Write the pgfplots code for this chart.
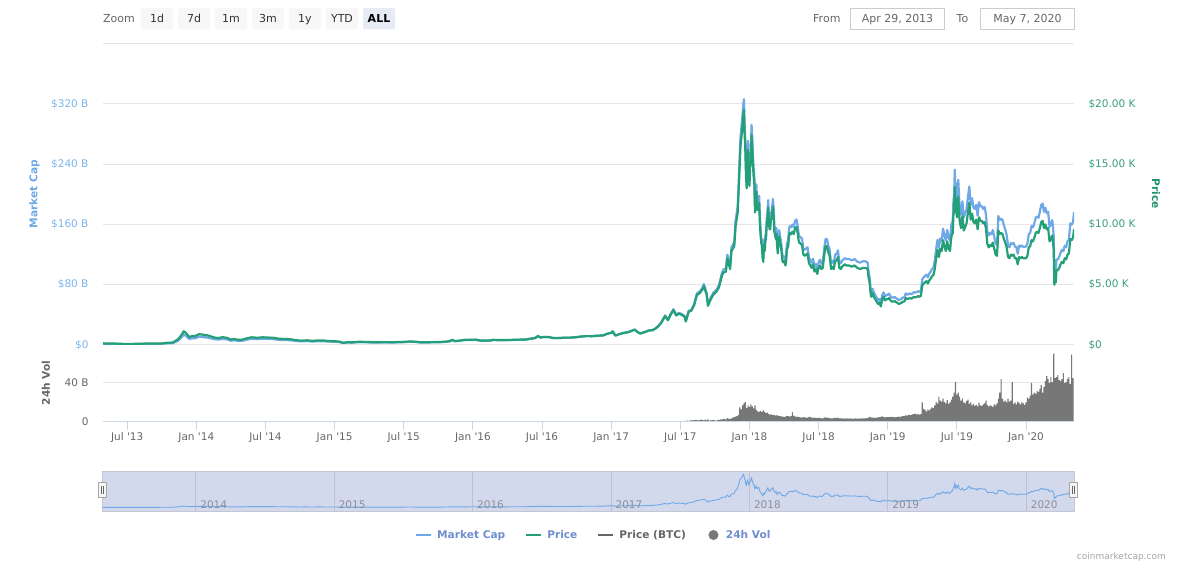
\documentclass[border=0pt]{standalone}
\usepackage{pgfplots}
\pgfplotsset{compat=1.18}
\usepackage{pgfplotstable}
\usepackage{fontspec}
\setmainfont{DejaVu Sans}

\definecolor{mcap}{HTML}{6FA8E6}
\definecolor{mcaplbl}{HTML}{7CB5EC}
\definecolor{price}{HTML}{23A077}
\definecolor{pricelbl}{HTML}{3A9E77}
\definecolor{pricettl}{HTML}{1E9467}
\definecolor{vol}{HTML}{777777}
\definecolor{gridc}{HTML}{E6E6E6}
\definecolor{axisc}{HTML}{CCD6EB}
\definecolor{txt}{HTML}{666666}
\definecolor{legtxt}{HTML}{6E8ED0}
\definecolor{btc}{HTML}{666666}
\definecolor{navfill}{HTML}{D3D9EC}
\definecolor{navborder}{HTML}{C4C7D2}
\definecolor{navline}{HTML}{BDC2D3}
\definecolor{navtxt}{HTML}{8E8E96}
\definecolor{btnbg}{HTML}{F7F7F7}
\definecolor{btnsel}{HTML}{E6EBF5}
\definecolor{boxc}{HTML}{CCCCCC}

\newcommand\tk{\fontsize{10.5}{12}\selectfont}
\newcommand\bt{\fontsize{11}{13}\selectfont}
\newcommand\bld{\fontsize{10.6}{12}\selectfont\bfseries}

% t = decimal year, p = price (thousand USD), c = market cap (billion USD)
\pgfplotstableread[row sep=\\]{
t p c\\
2013.325 0.144 1.60\\ 2013.36 0.117 1.30\\ 2013.40 0.122 1.37\\ 2013.44 0.108 1.22\\
2013.48 0.090 1.02\\ 2013.51 0.077 0.88\\ 2013.55 0.095 1.09\\ 2013.59 0.105 1.21\\
2013.63 0.120 1.39\\ 2013.67 0.130 1.52\\ 2013.71 0.125 1.47\\ 2013.75 0.130 1.53\\
2013.79 0.185 2.19\\ 2013.83 0.205 2.44\\ 2013.85 0.350 4.18\\ 2013.87 0.500 6.00\\
2013.89 0.800 9.62\\ 2013.91 1.140 13.74\\ 2013.925 1.000 12.08\\ 2013.95 0.650 7.88\\
2013.97 0.750 9.11\\ 2013.99 0.730 8.89\\
2014.02 0.900 11.01\\ 2014.05 0.850 10.43\\ 2014.08 0.800 9.86\\ 2014.11 0.700 8.65\\
2014.13 0.620 7.68\\ 2014.16 0.580 7.22\\ 2014.19 0.650 8.11\\ 2014.22 0.600 7.52\\
2014.25 0.450 5.66\\ 2014.27 0.500 6.30\\ 2014.30 0.440 5.56\\ 2014.33 0.440 5.58\\
2014.37 0.570 7.27\\ 2014.40 0.640 8.19\\ 2014.44 0.600 7.71\\ 2014.48 0.640 8.26\\
2014.52 0.620 8.04\\ 2014.56 0.590 7.69\\ 2014.60 0.520 6.81\\ 2014.64 0.500 6.58\\
2014.68 0.480 6.34\\ 2014.72 0.400 5.31\\ 2014.76 0.360 4.80\\ 2014.80 0.390 5.22\\
2014.84 0.340 4.57\\ 2014.88 0.380 5.13\\ 2014.92 0.370 5.02\\ 2014.96 0.330 4.49\\
2015.00 0.315 4.31\\ 2015.04 0.270 3.71\\ 2015.06 0.180 2.48\\ 2015.09 0.230 3.17\\
2015.13 0.220 3.05\\ 2015.17 0.270 3.76\\ 2015.21 0.260 3.63\\ 2015.25 0.245 3.43\\
2015.29 0.225 3.17\\ 2015.33 0.235 3.32\\ 2015.38 0.240 3.41\\ 2015.42 0.230 3.28\\
2015.46 0.245 3.50\\ 2015.50 0.260 3.73\\ 2015.54 0.290 4.18\\ 2015.58 0.280 4.05\\
2015.62 0.225 3.27\\ 2015.67 0.230 3.35\\ 2015.71 0.240 3.51\\ 2015.75 0.240 3.53\\
2015.79 0.270 3.98\\ 2015.83 0.315 4.66\\ 2015.85 0.430 6.38\\ 2015.87 0.330 4.90\\
2015.90 0.360 5.36\\ 2015.94 0.430 6.43\\ 2015.98 0.430 6.45\\
2016.02 0.450 6.78\\ 2016.05 0.380 5.74\\ 2016.08 0.380 5.75\\ 2016.12 0.370 5.62\\
2016.15 0.430 6.55\\ 2016.19 0.410 6.27\\ 2016.23 0.415 6.37\\ 2016.27 0.420 6.47\\
2016.31 0.440 6.80\\ 2016.35 0.450 6.98\\ 2016.38 0.455 7.08\\ 2016.42 0.530 8.27\\
2016.45 0.580 9.08\\ 2016.47 0.750 11.76\\ 2016.49 0.620 9.74\\ 2016.51 0.670 10.55\\
2016.55 0.660 10.41\\ 2016.58 0.580 9.16\\ 2016.62 0.575 9.10\\ 2016.66 0.610 9.67\\
2016.70 0.610 9.68\\ 2016.74 0.640 10.18\\ 2016.78 0.700 11.15\\ 2016.82 0.740 11.81\\
2016.86 0.730 11.67\\ 2016.90 0.770 12.33\\ 2016.94 0.790 12.67\\ 2016.98 0.960 15.43\\
2017.00 1.000 16.08\\ 2017.01 1.130 18.20\\ 2017.03 0.780 12.57\\ 2017.06 0.900 14.50\\
2017.09 1.000 16.11\\ 2017.12 1.050 16.99\\ 2017.15 1.180 19.09\\ 2017.17 1.270 20.55\\
2017.19 1.080 17.47\\ 2017.21 0.950 15.44\\ 2017.24 1.050 17.06\\ 2017.27 1.190 19.34\\
2017.30 1.230 20.07\\ 2017.32 1.350 22.03\\ 2017.34 1.550 25.30\\ 2017.36 1.800 29.38\\
2017.38 2.200 35.90\\ 2017.39 2.400 39.17\\ 2017.41 2.050 33.60\\ 2017.43 2.500 40.98\\
2017.45 2.900 47.53\\ 2017.47 2.450 40.16\\ 2017.49 2.600 42.61\\ 2017.51 2.500 41.15\\
2017.53 2.350 38.68\\ 2017.54 1.950 32.10\\ 2017.56 2.750 45.27\\ 2017.58 2.850 46.91\\
2017.60 3.300 54.55\\ 2017.62 4.150 68.60\\ 2017.64 4.300 71.08\\ 2017.66 4.600 76.04\\
2017.67 4.900 81.00\\ 2017.69 4.200 69.43\\ 2017.70 3.250 53.95\\ 2017.72 3.800 63.08\\
2017.74 4.200 69.72\\ 2017.76 4.400 73.04\\ 2017.78 4.800 79.68\\ 2017.80 5.700 95.02\\
2017.81 6.000 100.02\\ 2017.83 6.100 101.69\\ 2017.84 7.200 120.02\\ 2017.86 6.300 105.02\\
2017.87 7.800 130.03\\ 2017.89 8.200 136.69\\ 2017.90 9.900 165.73\\ 2017.915 11.00 184.14\\
2017.925 13.70 229.34\\ 2017.935 16.50 276.21\\ 2017.945 17.60 294.62\\ 2017.955 19.00 318.06\\
2017.96 19.50 326.43\\ 2017.965 17.50 292.95\\ 2017.97 16.20 271.19\\ 2017.975 14.00 234.36\\
2017.98 13.00 217.62\\ 2017.985 15.50 259.47\\ 2017.99 16.20 271.19\\ 2017.995 13.80 231.01\\
2018.00 13.20 221.76\\ 2018.005 14.80 248.64\\ 2018.01 15.20 255.36\\ 2018.015 17.40 292.32\\
2018.02 16.50 277.20\\ 2018.025 15.00 252.00\\ 2018.03 14.00 235.20\\ 2018.035 13.50 226.80\\
2018.04 11.00 184.80\\ 2018.045 11.50 193.20\\ 2018.05 12.70 213.36\\ 2018.055 11.30 189.84\\
2018.06 11.20 188.16\\ 2018.065 11.60 194.88\\ 2018.07 11.80 198.24\\ 2018.075 10.20 171.36\\
2018.08 9.20 154.56\\ 2018.085 8.50 142.80\\ 2018.09 8.20 137.76\\ 2018.095 7.20 120.96\\
2018.10 6.90 116.40\\ 2018.105 8.30 140.02\\ 2018.11 7.80 131.59\\ 2018.115 8.60 145.08\\
2018.12 8.90 150.14\\ 2018.125 10.00 168.70\\ 2018.13 10.40 175.45\\ 2018.135 11.40 192.32\\
2018.14 10.40 175.45\\ 2018.145 9.60 161.95\\ 2018.15 9.60 161.95\\ 2018.155 10.40 175.45\\
2018.16 10.50 177.14\\ 2018.17 11.50 194.01\\ 2018.175 10.70 180.51\\ 2018.18 9.40 158.58\\
2018.185 9.20 155.20\\ 2018.19 8.80 148.46\\ 2018.195 9.20 155.20\\ 2018.20 8.20 138.91\\
2018.205 7.60 128.74\\ 2018.21 8.60 145.68\\ 2018.215 9.00 152.46\\ 2018.22 8.60 145.68\\
2018.225 8.30 140.60\\ 2018.23 8.00 135.52\\ 2018.235 7.30 123.66\\ 2018.24 6.90 116.89\\
2018.245 7.00 118.58\\ 2018.25 6.90 116.89\\ 2018.26 6.60 111.80\\ 2018.265 6.90 116.89\\
2018.27 7.90 133.83\\ 2018.28 8.20 138.91\\ 2018.285 8.90 150.77\\ 2018.29 9.30 157.54\\
2018.30 9.20 156.49\\ 2018.31 9.40 159.89\\ 2018.32 9.20 156.49\\ 2018.33 9.70 165.00\\
2018.34 9.80 166.70\\ 2018.35 9.20 156.49\\ 2018.355 8.70 147.99\\ 2018.36 8.50 144.59\\
2018.37 8.40 142.88\\ 2018.38 8.30 141.18\\ 2018.39 7.50 127.58\\ 2018.40 7.40 126.39\\
2018.41 7.50 128.10\\ 2018.42 7.60 129.81\\ 2018.43 6.80 116.14\\ 2018.44 6.60 112.73\\
2018.45 6.40 109.31\\ 2018.46 6.70 114.44\\ 2018.47 6.10 104.19\\ 2018.48 6.30 107.60\\
2018.49 5.90 100.77\\ 2018.50 6.40 109.76\\ 2018.51 6.60 113.19\\ 2018.52 6.30 108.05\\
2018.53 6.40 109.76\\ 2018.54 7.40 126.91\\ 2018.55 8.20 140.63\\ 2018.56 8.20 140.63\\
2018.57 7.70 132.06\\ 2018.58 7.40 126.91\\ 2018.59 6.30 108.05\\ 2018.60 6.50 111.93\\
2018.61 6.30 108.49\\ 2018.62 7.00 120.54\\ 2018.63 7.00 120.54\\ 2018.64 7.30 125.71\\
2018.65 6.40 110.21\\ 2018.66 6.30 108.49\\ 2018.67 6.50 111.93\\ 2018.68 6.60 113.65\\
2018.69 6.70 115.37\\ 2018.70 6.60 114.11\\ 2018.72 6.60 114.11\\ 2018.74 6.50 112.39\\
2018.76 6.60 114.11\\ 2018.78 6.40 110.66\\ 2018.80 6.30 109.37\\ 2018.82 6.40 111.10\\
2018.84 6.40 111.10\\ 2018.855 6.30 109.37\\ 2018.86 5.70 98.95\\ 2018.87 5.10 88.54\\
2018.875 4.40 76.38\\ 2018.88 4.00 69.44\\ 2018.89 4.30 74.65\\ 2018.90 4.00 69.72\\
2018.91 3.80 66.23\\ 2018.92 3.60 62.75\\ 2018.93 3.40 59.26\\ 2018.94 3.50 61.01\\
2018.95 3.20 55.78\\ 2018.96 3.80 66.23\\ 2018.97 4.00 69.72\\ 2018.98 3.70 64.49\\
2018.99 3.80 66.23\\
2019.00 3.80 66.46\\ 2019.01 3.90 68.21\\ 2019.02 3.70 64.71\\ 2019.03 3.60 62.96\\
2019.04 3.60 62.96\\ 2019.05 3.65 63.84\\ 2019.06 3.55 62.09\\ 2019.07 3.50 61.22\\
2019.08 3.40 59.47\\ 2019.09 3.45 60.34\\ 2019.10 3.50 61.46\\ 2019.11 3.60 63.22\\
2019.12 3.60 63.22\\ 2019.13 3.90 68.48\\ 2019.14 3.80 66.73\\ 2019.15 3.85 67.61\\
2019.16 3.90 68.48\\ 2019.17 3.85 67.61\\ 2019.18 3.90 68.48\\ 2019.19 4.00 70.24\\
2019.20 3.95 69.64\\ 2019.21 4.00 70.52\\ 2019.22 4.05 71.40\\ 2019.23 4.00 70.52\\
2019.24 4.10 72.28\\ 2019.25 4.95 87.27\\ 2019.26 5.10 89.91\\ 2019.27 5.20 91.68\\
2019.28 5.30 93.44\\ 2019.29 5.10 89.91\\ 2019.30 5.35 94.64\\ 2019.31 5.50 97.30\\
2019.32 5.70 100.83\\ 2019.33 5.80 102.60\\ 2019.34 6.30 111.45\\ 2019.35 7.20 127.37\\
2019.36 7.90 139.75\\ 2019.37 7.30 129.14\\ 2019.38 8.00 141.52\\ 2019.39 7.80 137.98\\
2019.40 8.70 154.51\\ 2019.41 8.20 145.63\\ 2019.42 7.80 138.53\\ 2019.43 8.60 152.74\\
2019.44 8.00 142.08\\ 2019.45 7.80 138.53\\ 2019.46 9.00 159.84\\ 2019.47 9.30 165.17\\
2019.475 10.80 191.81\\ 2019.48 11.20 198.91\\ 2019.485 13.10 232.66\\ 2019.49 11.00 195.36\\
2019.495 12.10 214.90\\ 2019.50 10.60 189.00\\ 2019.505 11.50 205.05\\ 2019.51 12.30 219.31\\
2019.515 11.20 199.70\\ 2019.52 10.30 183.65\\ 2019.53 9.70 172.95\\ 2019.54 10.70 190.78\\
2019.55 9.50 169.39\\ 2019.56 9.80 174.73\\ 2019.57 10.10 180.08\\ 2019.58 11.00 196.13\\
2019.59 11.80 210.39\\ 2019.60 10.40 186.06\\ 2019.61 10.90 195.00\\ 2019.62 10.20 182.48\\
2019.63 10.10 180.69\\ 2019.64 10.40 186.06\\ 2019.65 9.60 171.74\\ 2019.66 10.60 189.63\\
2019.67 10.30 184.27\\ 2019.68 10.30 184.27\\ 2019.69 10.10 180.69\\ 2019.70 10.20 183.19\\
2019.71 9.70 174.21\\ 2019.72 8.40 150.86\\ 2019.73 8.10 145.48\\ 2019.74 8.30 149.07\\
2019.75 8.20 147.27\\ 2019.76 8.50 152.66\\ 2019.77 8.00 143.68\\ 2019.78 7.50 134.70\\
2019.79 7.40 132.90\\ 2019.80 9.50 171.29\\ 2019.81 9.20 165.88\\ 2019.82 9.30 167.68\\
2019.83 9.20 165.88\\ 2019.84 8.80 158.66\\ 2019.85 8.50 153.26\\ 2019.86 8.10 146.04\\
2019.87 7.30 131.62\\ 2019.88 7.20 129.82\\ 2019.89 7.50 135.23\\ 2019.90 7.40 133.94\\
2019.91 7.50 135.75\\ 2019.92 7.20 130.32\\ 2019.93 7.20 130.32\\ 2019.94 6.70 121.27\\
2019.95 7.30 132.13\\ 2019.96 7.20 130.32\\ 2019.97 7.30 132.13\\ 2019.98 7.20 130.32\\
2019.99 7.20 130.32\\
2020.00 7.20 130.75\\ 2020.01 7.40 134.38\\ 2020.02 8.10 147.10\\ 2020.03 8.20 148.91\\
2020.04 8.70 157.99\\ 2020.05 8.60 156.18\\ 2020.06 8.90 161.62\\ 2020.07 9.30 168.89\\
2020.08 9.40 170.70\\ 2020.09 9.30 168.89\\ 2020.10 9.70 176.83\\ 2020.11 10.20 185.95\\
2020.12 10.30 187.77\\ 2020.13 9.70 176.83\\ 2020.14 10.00 182.30\\ 2020.15 9.60 175.01\\
2020.16 9.70 176.83\\ 2020.17 8.60 156.78\\ 2020.18 8.80 160.42\\ 2020.19 9.10 165.89\\
2020.20 7.90 144.57\\ 2020.205 5.00 91.50\\ 2020.21 5.40 98.82\\ 2020.215 5.20 95.16\\
2020.22 6.20 113.46\\ 2020.23 6.20 113.46\\ 2020.24 6.40 117.12\\ 2020.25 6.70 122.61\\
2020.26 6.90 126.27\\ 2020.27 6.80 124.44\\ 2020.28 7.20 131.76\\ 2020.29 7.10 129.93\\
2020.30 7.50 137.70\\ 2020.31 7.60 139.54\\ 2020.32 8.80 161.57\\ 2020.33 8.70 159.73\\
2020.34 8.90 163.40\\ 2020.347 9.60 176.26\\
}\btcdata

% 24h volume, billion USD
\pgfplotstableread[row sep=\\]{
t v\\
2017.50 0.8\\ 2017.51 1.0\\ 2017.52 0.9\\ 2017.53 0.7\\ 2017.54 1.2\\ 2017.55 1.4\\ 2017.56 1.1\\ 2017.57 1.3\\ 2017.58 1.9\\ 2017.59 1.6\\
2017.60 1.8\\ 2017.61 2.2\\ 2017.62 2.0\\ 2017.63 1.7\\ 2017.64 1.9\\ 2017.65 2.4\\ 2017.66 2.1\\ 2017.67 1.6\\ 2017.68 2.5\\ 2017.69 2.0\\
2017.70 2.8\\ 2017.71 1.5\\ 2017.72 1.7\\ 2017.73 1.9\\ 2017.74 2.1\\ 2017.75 1.6\\ 2017.76 1.5\\ 2017.77 1.8\\ 2017.78 2.3\\ 2017.79 2.6\\
2017.80 2.4\\ 2017.81 2.9\\ 2017.82 3.2\\ 2017.83 2.6\\ 2017.84 4.0\\ 2017.85 3.4\\ 2017.86 3.0\\ 2017.87 3.8\\ 2017.88 4.5\\ 2017.89 5.0\\
2017.90 5.5\\ 2017.91 6.0\\ 2017.92 7.0\\ 2017.93 15.0\\ 2017.94 13.0\\ 2017.95 17.0\\ 2017.96 19.0\\ 2017.97 20.5\\ 2017.98 14.5\\ 2017.99 17.0\\
2018.00 15.5\\ 2018.01 18.0\\ 2018.02 16.0\\ 2018.03 14.0\\ 2018.04 17.0\\ 2018.05 12.5\\ 2018.06 11.0\\ 2018.07 10.5\\ 2018.08 11.5\\ 2018.09 10.0\\
2018.10 12.0\\ 2018.11 10.5\\ 2018.12 9.0\\ 2018.13 9.5\\ 2018.14 8.0\\ 2018.15 7.5\\ 2018.16 7.8\\ 2018.17 7.0\\ 2018.18 7.2\\ 2018.19 6.5\\
2018.20 7.0\\ 2018.21 6.2\\ 2018.22 6.0\\ 2018.23 5.8\\ 2018.24 5.5\\ 2018.25 5.2\\ 2018.26 5.6\\ 2018.27 6.4\\ 2018.28 6.0\\ 2018.29 5.5\\
2018.30 6.0\\ 2018.31 10.0\\ 2018.32 6.5\\ 2018.33 5.8\\ 2018.34 5.2\\ 2018.35 5.4\\ 2018.36 5.0\\ 2018.37 4.8\\ 2018.38 4.6\\ 2018.39 4.9\\
2018.40 4.8\\ 2018.41 4.4\\ 2018.42 4.6\\ 2018.43 5.2\\ 2018.44 5.0\\ 2018.45 4.5\\ 2018.46 4.2\\ 2018.47 4.4\\ 2018.48 4.3\\ 2018.49 4.0\\
2018.50 4.1\\ 2018.51 4.3\\ 2018.52 3.8\\ 2018.53 3.6\\ 2018.54 4.4\\ 2018.55 4.8\\ 2018.56 4.6\\ 2018.57 4.2\\ 2018.58 3.9\\ 2018.59 3.8\\
2018.60 3.7\\ 2018.61 3.9\\ 2018.62 4.2\\ 2018.63 4.0\\ 2018.64 4.5\\ 2018.65 3.8\\ 2018.66 3.6\\ 2018.67 3.8\\ 2018.68 3.5\\ 2018.69 3.6\\
2018.70 3.5\\ 2018.71 3.6\\ 2018.72 3.4\\ 2018.73 3.7\\ 2018.74 3.5\\ 2018.75 3.3\\ 2018.76 3.6\\ 2018.77 3.4\\ 2018.78 3.5\\ 2018.79 3.4\\
2018.80 3.6\\ 2018.81 3.5\\ 2018.82 3.7\\ 2018.83 3.8\\ 2018.84 3.6\\ 2018.85 3.9\\ 2018.86 4.6\\ 2018.87 5.2\\ 2018.88 4.8\\ 2018.89 4.4\\
2018.90 4.5\\ 2018.91 4.2\\ 2018.92 4.4\\ 2018.93 4.8\\ 2018.94 4.9\\ 2018.95 5.3\\ 2018.96 5.8\\ 2018.97 5.0\\ 2018.98 4.7\\ 2018.99 4.9\\
2019.00 5.1\\ 2019.01 5.0\\ 2019.02 5.3\\ 2019.03 4.9\\ 2019.04 5.2\\ 2019.05 4.8\\ 2019.06 5.0\\ 2019.07 5.1\\ 2019.08 5.4\\ 2019.09 5.2\\
2019.10 5.8\\ 2019.11 6.2\\ 2019.12 6.0\\ 2019.13 6.8\\ 2019.14 6.5\\ 2019.15 7.2\\ 2019.16 7.0\\ 2019.17 7.3\\ 2019.18 7.8\\ 2019.19 8.0\\
2019.20 8.5\\ 2019.21 7.8\\ 2019.22 8.2\\ 2019.23 7.5\\ 2019.24 8.0\\ 2019.25 20.0\\ 2019.26 13.5\\ 2019.27 12.5\\ 2019.28 11.0\\ 2019.29 13.0\\
2019.30 12.0\\ 2019.31 13.5\\ 2019.32 15.0\\ 2019.33 14.2\\ 2019.34 17.0\\ 2019.35 21.0\\ 2019.36 19.0\\ 2019.37 26.0\\ 2019.38 22.0\\ 2019.39 21.0\\
2019.40 24.0\\ 2019.41 20.5\\ 2019.42 19.0\\ 2019.43 22.5\\ 2019.44 18.5\\ 2019.45 20.0\\ 2019.46 23.0\\ 2019.47 26.0\\ 2019.48 30.0\\ 2019.49 41.0\\
2019.50 28.0\\ 2019.51 30.0\\ 2019.52 26.0\\ 2019.53 22.0\\ 2019.54 24.0\\ 2019.55 20.0\\ 2019.56 19.0\\ 2019.57 21.5\\ 2019.58 23.0\\ 2019.59 18.5\\
2019.60 20.0\\ 2019.61 17.0\\ 2019.62 18.5\\ 2019.63 16.5\\ 2019.64 17.5\\ 2019.65 16.0\\ 2019.66 19.5\\ 2019.67 17.0\\ 2019.68 16.5\\ 2019.69 18.0\\
2019.70 19.0\\ 2019.71 22.0\\ 2019.72 17.5\\ 2019.73 16.0\\ 2019.74 17.0\\ 2019.75 16.5\\ 2019.76 15.5\\ 2019.77 18.0\\ 2019.78 17.0\\ 2019.79 19.0\\
2019.80 24.0\\ 2019.81 30.0\\ 2019.82 44.0\\ 2019.83 24.0\\ 2019.84 21.0\\ 2019.85 22.0\\ 2019.86 20.0\\ 2019.87 24.0\\ 2019.88 21.0\\ 2019.89 22.0\\
2019.90 41.0\\ 2019.91 18.5\\ 2019.92 20.0\\ 2019.93 18.0\\ 2019.94 21.0\\ 2019.95 19.5\\ 2019.96 18.0\\ 2019.97 20.5\\ 2019.98 19.0\\ 2019.99 17.5\\
2020.00 20.0\\ 2020.01 25.0\\ 2020.02 24.0\\ 2020.03 27.0\\ 2020.04 40.0\\ 2020.05 28.0\\ 2020.06 30.0\\ 2020.07 29.0\\ 2020.08 32.0\\ 2020.09 31.0\\
2020.10 34.0\\ 2020.11 38.0\\ 2020.12 30.0\\ 2020.13 36.0\\ 2020.14 42.0\\ 2020.15 47.0\\ 2020.16 44.0\\ 2020.17 40.0\\ 2020.18 46.0\\ 2020.19 41.0\\
2020.20 70.0\\ 2020.21 45.0\\ 2020.22 46.0\\ 2020.23 48.0\\ 2020.24 43.0\\ 2020.25 42.0\\ 2020.26 44.0\\ 2020.27 50.0\\ 2020.28 40.0\\ 2020.29 41.0\\
2020.30 44.0\\ 2020.31 46.0\\ 2020.32 39.0\\ 2020.33 69.0\\ 2020.34 45.0\\
}\voldata

\begin{document}
\begin{tikzpicture}[x=1pt,y=1pt]
\path[use as bounding box] (0,0) rectangle (1179,570);

% range selector bar
\node[anchor=base west, inner sep=0, text=txt, font=\bt] at (103,547.5) {Zoom};
\foreach \x/\t in {141/1d,178/7d,215/1m,252/3m,289/1y,326/YTD} {
  \fill[btnbg, rounded corners=2pt] (\x,540.7) rectangle ++(32,21.3);
  \node[anchor=base, inner sep=0, text=black!80, font=\bt] at (\x+16,547.5) {\t};
}
\fill[btnsel, rounded corners=2pt] (363,540.7) rectangle ++(32,21.3);
\node[anchor=base, inner sep=0, font=\bt\bfseries] at (379,547.5) {ALL};

\node[anchor=base west, inner sep=0, text=txt, font=\bt] at (813,547.5) {From};
\draw[boxc] (850.5,540.7) rectangle (944.5,562);
\node[anchor=base, inner sep=0, text=txt, font=\bt] at (897.5,547.5) {Apr 29, 2013};
\node[anchor=base west, inner sep=0, text=txt, font=\bt] at (956.5,547.5) {To};
\draw[boxc] (980.5,540.7) rectangle (1074.5,562);
\node[anchor=base, inner sep=0, text=txt, font=\bt] at (1027.5,547.5) {May 7, 2020};

% market cap pane
\begin{axis}[
  at={(103pt,225pt)}, anchor=south west, scale only axis,
  width=971pt, height=301.25pt,
  xmin=2013.325, xmax=2020.347, ymin=0, ymax=400,
  xtick=\empty, ytick={0,80,160,240,320,400},
  yticklabels={\$0,\$80 B,\$160 B,\$240 B,\$320 B,{}},
  ytick pos=left,
  ymajorgrids, grid style={gridc, line width=1pt},
  major tick length=0pt, axis line style={draw=none},
  yticklabel style={font=\tk, text=mcaplbl, xshift=-11pt},
]
\draw[gridc, line width=2pt] (rel axis cs:0,0) -- (rel axis cs:1,0);
\addplot[mcap, line width=2.2pt, line join=round] table[x=t, y=c]{\btcdata};
\end{axis}

% price on the right axis
\begin{axis}[
  at={(103pt,225pt)}, anchor=south west, scale only axis,
  width=971pt, height=301.25pt,
  xmin=2013.325, xmax=2020.347, ymin=0, ymax=25,
  xtick=\empty, ytick={0,5,10,15,20},
  yticklabels={\$0,\$5.00 K,\$10.00 K,\$15.00 K,\$20.00 K},
  ytick pos=right, yticklabel pos=right,
  major tick length=0pt, axis line style={draw=none},
  yticklabel style={font=\tk, text=pricelbl, anchor=west, xshift=11pt},
]
\addplot[price, line width=2.2pt, line join=round] table[x=t, y=p]{\btcdata};
\end{axis}

% volume pane
\begin{axis}[
  at={(103pt,148pt)}, anchor=south west, scale only axis,
  width=971pt, height=78pt,
  xmin=2013.325, xmax=2020.347, ymin=0, ymax=80,
  xtick={2013.5,2014,2014.5,2015,2015.5,2016,2016.5,2017,2017.5,2018,2018.5,2019,2019.5,2020},
  xticklabels={Jul \textquotesingle13,Jan \textquotesingle14,Jul \textquotesingle14,Jan \textquotesingle15,Jul \textquotesingle15,Jan \textquotesingle16,Jul \textquotesingle16,Jan \textquotesingle17,Jul \textquotesingle17,Jan \textquotesingle18,Jul \textquotesingle18,Jan \textquotesingle19,Jul \textquotesingle19,Jan \textquotesingle20},
  ytick={0,40}, yticklabels={0,40 B},
  ymajorgrids, grid style={gridc, line width=1pt},
  tick align=outside, xtick pos=bottom, ytick pos=left,
  major tick length=8pt,
  xtick style={axisc, line width=1pt},
  ytick style={draw=none},
  axis line style={draw=none},
  xticklabel style={font=\tk, text=txt, yshift=1pt},
  yticklabel style={font=\tk, text=txt, xshift=-3pt},
]
\addplot[ybar, bar width=1.15pt, fill=vol, draw=none] table[x=t, y=v]{\voldata};
\draw[axisc, line width=1pt] (rel axis cs:0,0) -- (rel axis cs:1,0);
\draw[axisc, line width=1pt] ([xshift=-2pt]rel axis cs:0,0) -- ([xshift=-2pt]rel axis cs:0,1);
\end{axis}

% navigator
\begin{axis}[
  at={(102pt,59pt)}, anchor=south west, scale only axis,
  width=972pt, height=40pt,
  xmin=2013.325, xmax=2020.347, ymin=-35, ymax=360,
  axis background/.style={fill=navfill},
  axis line style={navborder},
  xtick={2014,2015,2016,2017,2018,2019,2020}, xticklabels={}, ytick=\empty,
  xmajorgrids, grid style={navline},
  major tick length=0pt,
  legend style={at={(0.506,-0.6)}, anchor=center, draw=none, fill=none,
    legend columns=4, font=\bld, inner sep=0pt,
    /tikz/every odd column/.append style={column sep=3pt},
    /tikz/every even column/.append style={column sep=18pt}},
  legend image code/.code={\draw[#1, line width=2pt] (0pt,0pt) -- (15pt,0pt);},
]
\addplot[mcap, line width=0.9pt, forget plot] table[x=t, y=c]{\btcdata};
\foreach \yr in {2014,2015,2016,2017,2018,2019,2020} {
  \edef\temp{\noexpand\node[anchor=base west, inner sep=0, text=navtxt, font=\noexpand\tk, xshift=4.7pt] at (axis cs:\yr,-6) {\yr};}
  \temp
}
\addlegendimage{mcap}
\addlegendentry{\textcolor{legtxt}{Market Cap}}
\addlegendimage{price}
\addlegendentry{\textcolor{legtxt}{Price}}
\addlegendimage{btc}
\addlegendentry{\textcolor{txt}{Price (BTC)}}
\addlegendimage{legend image code/.code={\path[draw=none, fill=none] (0pt,-1pt) rectangle (15pt,1pt); \fill[vol, draw=none] (7.5pt,0pt) circle (5pt);}}
\addlegendentry{\textcolor{legtxt}{24h Vol}}
\end{axis}

% navigator handles
\foreach \hx in {102.5,1073.5} {
  \filldraw[fill=gray!8, draw=gray!70] (\hx-4,72.5) rectangle (\hx+4,87.5);
  \draw[gray!80!black, line width=0.6pt] (\hx-1,76) -- (\hx-1,84) (\hx+1,76) -- (\hx+1,84);
}

% axis titles
\node[rotate=90, text=mcap, font=\bld] at (34.5,376) {Market Cap};
\node[rotate=90, text=txt, font=\bld] at (46,187) {24h Vol};
\node[rotate=-90, text=pricettl, font=\bld] at (1156,376) {Price};

% credit
\node[anchor=base east, inner sep=0, text=gray!70, font=\fontsize{9}{10}\selectfont] at (1166,10) {coinmarketcap.com};
\end{tikzpicture}
\end{document}
